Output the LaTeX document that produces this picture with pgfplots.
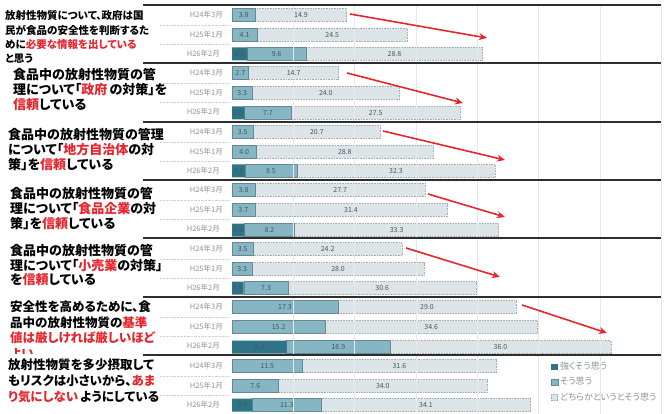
\documentclass[border=0pt]{standalone}
\usepackage{fontspec}
\setmainfont{Noto Sans CJK JP}[RawFeature=+palt]
\usepackage{pgfplots}
\pgfplotsset{compat=1.18}
\usetikzlibrary{arrows.meta}
\definecolor{dk}{HTML}{2E7487}
\definecolor{md}{HTML}{86B5C4}
\definecolor{lt}{HTML}{DDE4E7}
\definecolor{ltb}{HTML}{A3AEB2}
\definecolor{jred}{HTML}{E5262E}
\definecolor{yr}{HTML}{8A9296}
\definecolor{num}{HTML}{46555B}
\definecolor{sep}{HTML}{2E2E2E}
\newcommand\R[1]{\textcolor{jred}{#1}}
\begin{document}
\begin{tikzpicture}
\pgfplotsset{base/.style={at={(0,0)}, anchor=south west, hide axis, scale only axis,
  width=666pt, height=414pt, xmin=-37.847, xmax=70.799, ymin=0, ymax=414, y dir=reverse, clip=false}}
\begin{axis}[base, name=ax, xbar stacked, bar width=13,
  legend style={at={(axis cs:52.0,360)}, anchor=north west, draw=none, fill=none,
    font=\fontsize{9}{10}\selectfont, text=yr, row sep=2.5pt, inner sep=0pt},
  legend cell align=left,
  legend image code/.code={\path[#1] (0pt,-3.2pt) rectangle (6.5pt,3.2pt);}]
\foreach \g in {10,20,...,70}{\edef\tmp{\noexpand\draw[gray!18, line width=0.4pt] (axis cs:\g,5) -- (axis cs:\g,414);}\tmp}
\addplot[fill=dk, draw=none] coordinates {
(0,15) (0,35) (2.5,54)
(0,73) (0,93) (2.0,113)
(0,132) (0,152) (2.1,171)
(0,190) (0,210) (2.0,230)
(0,249) (0,269) (1.9,288)
(0,307) (0,327) (8.9,347)
(0,366) (0,386) (3.3,405)};
\addplot[fill=md, draw=md!75!black, line width=0.3pt] coordinates {
(3.8,15) (4.1,35) (9.6,54)
(2.7,73) (3.3,93) (7.7,113)
(3.5,132) (4.0,152) (8.5,171)
(3.8,190) (3.7,210) (8.2,230)
(3.5,249) (3.3,269) (7.3,288)
(17.3,307) (15.2,327) (16.9,347)
(11.5,366) (7.6,386) (11.3,405)};
\addplot[fill=lt, draw=ltb, densely dotted, line width=0.6pt] coordinates {
(14.9,15) (24.5,35) (28.8,54)
(14.7,73) (24.0,93) (27.5,113)
(20.7,132) (28.8,152) (32.3,171)
(27.7,190) (31.4,210) (33.3,230)
(24.2,249) (28.0,269) (30.6,288)
(29.0,307) (34.6,327) (36.0,347)
(31.6,366) (34.0,386) (34.1,405)};
\legend{強くそう思う, そう思う, どちらかというとそう思う}
\end{axis}
\begin{axis}[base]
\addplot[only marks, mark=text, text mark={}, nodes near coords,
  point meta=explicit symbolic,
  every node near coord/.append style={anchor=center, inner sep=0pt, text=num,
    font=\fontsize{7}{8}\selectfont}] table[meta=l] {
x y l
1.9 15 3.8
11.25 15 14.9
2.05 35 4.1
16.35 35 24.5
1.25 54 2.5
7.3 54 9.6
26.5 54 28.8
1.35 73 2.7
10.05 73 14.7
1.65 93 3.3
15.3 93 24.0
1.0 113 2.0
5.85 113 7.7
23.45 113 27.5
1.75 132 3.5
13.85 132 20.7
2.0 152 4.0
18.4 152 28.8
1.05 171 2.1
6.35 171 8.5
26.75 171 32.3
1.9 190 3.8
17.65 190 27.7
1.85 210 3.7
19.4 210 31.4
1.0 230 2.0
6.1 230 8.2
26.85 230 33.3
1.75 249 3.5
15.6 249 24.2
1.65 269 3.3
17.3 269 28.0
0.95 288 1.9
5.55 288 7.3
24.5 288 30.6
8.65 307 17.3
31.8 307 29.0
7.6 327 15.2
32.5 327 34.6
4.45 347 8.9
17.35 347 16.9
43.8 347 36.0
5.75 366 11.5
27.3 366 31.6
3.8 386 7.6
24.6 386 34.0
1.65 405 3.3
8.95 405 11.3
31.65 405 34.1
};
\end{axis}
\begin{scope}[x=1pt, y=-1pt, shift={(0pt,414pt)}]
% year labels
\foreach \b in {15,73,132,190,249,307,366}{
  \node[anchor=east, inner sep=0pt, text=yr, font=\fontsize{7.5}{8}\selectfont] at (223,\b) {H24年3月};
  \node[anchor=east, inner sep=0pt, text=yr, font=\fontsize{7.5}{8}\selectfont] at (223,\b+20) {H25年1月};
  \node[anchor=east, inner sep=0pt, text=yr, font=\fontsize{7.5}{8}\selectfont] at (220,\b+39) {H26年2月};
  \draw[gray!35, densely dotted] (160,\b+10) -- (230,\b+10);
  \draw[gray!35, densely dotted] (160,\b+29.5) -- (230,\b+29.5);
}
% separators
\foreach \s in {5,63,122,180,238,297,355}{\draw[sep, line width=1.3pt] (143,\s) -- (661,\s);}
% question texts
\tikzset{q/.style={anchor=west, inner sep=0pt, font=\bfseries\fontsize{#1}{#1}\selectfont}}
\node[q=10.5] at (5,16) {放射性物質について、政府は国};
\node[q=10.5] at (5,30.5) {民が食品の安全性を判断するた};
\node[q=10.5] at (5,45) {めに\R{必要な情報を出している}};
\begin{scope}\clip (0,50) rectangle (150,62.5);
\node[q=10.5] at (5,59) {と思う};
\end{scope}
\node[q=13] at (13,75) {食品中の放射性物質の管};
\node[q=13] at (13,90) {理について「\R{政府}\,の対策」を};
\node[q=13] at (13,104.5) {\R{信頼}している};
\node[q=13] at (8,134.5) {食品中の放射性物質の管理};
\node[q=13] at (8,150) {について「\R{地方自治体}の対};
\node[q=13] at (8,164.5) {策」を\R{信頼}している};
\node[q=13] at (10,194) {食品中の放射性物質の管};
\node[q=13] at (10,209) {理について「\R{食品企業}の対};
\node[q=13] at (10,223.5) {策」を\R{信頼}している};
\node[q=13] at (10,251) {食品中の放射性物質の管};
\node[q=13] at (10,266) {理について「\R{小売業}の対策」};
\node[q=13] at (10,280) {を\R{信頼}している};
\node[q=12.5] at (10,307) {安全性を高めるために、食};
\node[q=12.5] at (10,322.5) {品中の放射性物質の\R{基準}};
\node[q=12.5] at (10,338) {\R{値は厳しければ厳しいほど}};
\begin{scope}\clip (0,345) rectangle (150,354);
\node[q=12.5] at (10,354) {\R{よい}};
\end{scope}
\node[q=12.5] at (8,365) {放射性物質を多少摂取して};
\node[q=12.5] at (8,381) {もリスクは小さいから、\R{あま}};
\node[q=12.5] at (8,397) {\R{り気にしない}\,ようにしている};
% red arrows
\tikzset{ra/.style={draw=jred, line width=1.6pt, -{Stealth[length=8pt,width=7pt]}}}
\draw[ra] (350,14) -- (487,38);
\draw[ra] (347,73) -- (463,103);
\draw[ra] (383,131) -- (505,160);
\draw[ra] (428,194) -- (505,217);
\draw[ra] (406,248) -- (500,277);
\draw[ra] (522,305) -- (607,333);
\end{scope}
\pgfresetboundingbox
\path (0,0) rectangle (666pt,414pt);
\end{tikzpicture}
\end{document}
